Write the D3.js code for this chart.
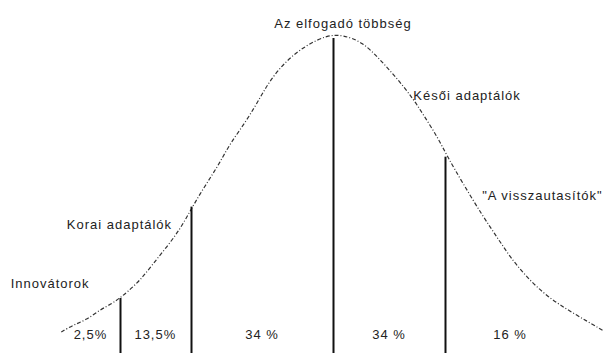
<!DOCTYPE html>
<html>
<head>
<meta charset="utf-8">
<script src="https://cdn.jsdelivr.net/npm/d3@7"></script>
<style>
  body { margin: 0; background: #fff; }
  svg { display: block; }
  .lbl { font-family: "Liberation Sans", Arial, sans-serif; font-size: 13px; letter-spacing: 1px; fill: #222; }
</style>
</head>
<body>
<div id="chart"></div>
<script>
// curve: position in standard deviations, height as % of peak
const curveZ = [-2.47, -2.36, -2.24, -2.12, -2.0, -1.94, -1.87, -1.75, -1.64, -1.51, -1.39, -1.3, -1.21, -1.12,
  -1.03, -0.94, -0.78, -0.66, -0.57, -0.42, -0.24, -0.05, 0.09, 0.27, 0.43, 0.58, 0.73, 0.82, 0.95, 1.04,
  1.18, 1.36, 1.49, 1.61, 1.76, 1.95, 2.18, 2.45];
const curveH = [4.8, 7.1, 8.7, 11.9, 14.1, 15.7, 17.6, 21.5, 26.5, 32.1, 37.8, 43.5, 49.0, 54.0,
  59.0, 65.0, 72.8, 80.1, 85.6, 92.0, 96.8, 100, 100, 97.8, 92.0, 86.2, 79.5, 74.5, 67.3, 61.0,
  52.5, 42.0, 35.3, 28.8, 22.4, 16.0, 10.9, 5.4];

// group boundaries (dividers) and the curve height where they stop
const dividerZ = [-1.94, -1.29, 0, 1.02];
const dividerH = [15.7, 45.0, 99, 61];

const groups = ["Innovátorok", "Korai adaptálók", "Az elfogadó többség", "Késői adaptálók", "\"A visszautasítók\""];
const shares = ["2,5%", "13,5%", "34 %", "34 %", "16 %"];

const width = 608;
const height = 353;

const xScale = d3.scaleLinear().domain([-3, 3]).range([3, 663]);
const yScale = d3.scaleLinear().domain([0, 100]).range([347, 35]);

const svg = d3
  .select("#chart")
  .append("svg")
  .attr("width", width)
  .attr("height", height);

const pts = curveZ.map((z, i) => ({ z: z, h: curveH[i] }));

const line = d3
  .line()
  .curve(d3.curveBasis)
  .x((d) => xScale(d.z))
  .y((d) => yScale(d.h));

svg
  .append("path")
  .datum(pts)
  .attr("d", line)
  .attr("fill", "none")
  .attr("stroke", "#333")
  .attr("stroke-width", 1.2)
  .attr("stroke-dasharray", "4,2,1,2");

// vertical dividers down to the bottom edge
svg
  .selectAll(".divider")
  .data(dividerZ)
  .enter()
  .append("line")
  .attr("class", "divider")
  .attr("x1", (d) => Math.round(xScale(d)) + 0.5)
  .attr("x2", (d) => Math.round(xScale(d)) + 0.5)
  .attr("y1", (d, i) => yScale(dividerH[i]))
  .attr("y2", height)
  .attr("stroke", "#111")
  .attr("stroke-width", 2);

// percentage labels centred in each band
const bounds = [curveZ[0], ...dividerZ, 2.2];
svg
  .selectAll(".share")
  .data(shares)
  .enter()
  .append("text")
  .attr("class", "lbl")
  .attr("x", (d, i) => xScale((bounds[i] + bounds[i + 1]) / 2))
  .attr("y", 339)
  .attr("text-anchor", "middle")
  .text((d) => d);

// group names, placed next to the divider they belong to
const xs = dividerZ.map((z) => xScale(z));
const ys = dividerH.map((h) => yScale(h));
const groupPos = [
  { x: xs[0] - 30, y: ys[0] - 10, anchor: "end" },
  { x: xs[1] - 19, y: ys[1] + 22, anchor: "end" },
  { x: xs[2] + 10, y: 28, anchor: "middle" },
  { x: xScale(0.73), y: 100, anchor: "start" },
  { x: xs[3] + 37, y: ys[3] + 43, anchor: "start" },
];

svg
  .selectAll(".group")
  .data(groups)
  .enter()
  .append("text")
  .attr("class", "lbl")
  .attr("x", (d, i) => groupPos[i].x)
  .attr("y", (d, i) => groupPos[i].y)
  .attr("text-anchor", (d, i) => groupPos[i].anchor)
  .text((d) => d);
</script>
</body>
</html>
